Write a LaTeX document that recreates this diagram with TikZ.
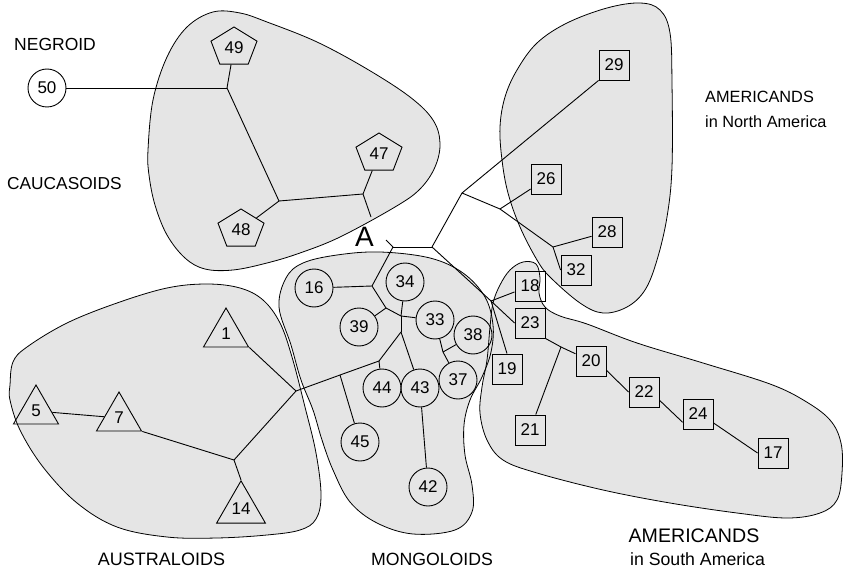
\documentclass[tikz,border=0pt]{standalone}
\usepackage{fontspec}
\setmainfont{Liberation Sans}
\usepackage{graphicx}
\usetikzlibrary{shapes.geometric}

% outlines of the five population clusters
\newcommand\outlineCauc{plot[smooth cycle, tension=0.6] coordinates {(148,150) (153,100) (167,57) (187,27) (213,12) (240,13) (267,22) (317,42) (367,69) (410,97) (433,120) (440,143) (435,167) (420,189) (395,207) (340,237) (300,253) (267,263) (233,270) (205,269) (185,258) (167,235) (155,205) (149,175)}}
\newcommand\outlineNorth{plot[smooth cycle, tension=0.6] coordinates {(500,127) (505,97) (517,70) (537,43) (567,23) (607,8) (640,3) (660,10) (670,33) (672,83) (672,167) (667,217) (657,260) (645,290) (627,307) (603,313) (580,303) (550,277) (537,260) (520,227) (508,193) (502,160)}}
\newcommand\outlineSouth{plot[smooth cycle, tension=0.6] coordinates {(490,327) (493,303) (500,285) (510,270) (523,262) (536,264) (540,278) (539,293) (545,307) (560,316) (587,324) (637,343) (703,363) (770,384) (805,401) (830,420) (841,443) (842,473) (837,500) (820,513) (787,518) (737,513) (670,503) (603,490) (537,473) (503,460) (487,440) (480,413) (482,387) (487,360)}}
\newcommand\outlineMong{plot[smooth cycle, tension=0.6] coordinates {(279,307) (286,278) (303,263) (337,255) (380,252) (430,258) (463,273) (485,297) (493,325) (491,352) (482,377) (470,400) (464,425) (465,455) (472,485) (472,512) (455,530) (413,534) (377,523) (350,502) (333,470) (322,440) (313,410) (301,380) (291,345)}}
\newcommand\outlineAustr{plot[smooth cycle, tension=0.6] coordinates {(10,385) (13,362) (27,347) (67,323) (117,303) (167,288) (207,284) (240,288) (263,300) (280,323) (292,357) (305,407) (316,453) (321,495) (316,519) (300,530) (267,535) (217,538) (167,537) (117,527) (77,503) (43,467) (20,430) (10,400)}}

% numbers inside the widened pentagons are narrowed back
\newcommand\pnum[1]{\scalebox{0.847}[1]{#1}}

\begin{document}
\begin{tikzpicture}[x=1pt, y=-1pt,
  blob/.style={fill=gray!20},
  rim/.style={draw=black, line width=0.8pt},
  link/.style={draw=black, line width=0.9pt},
  numfont/.style={font=\fontsize{17pt}{19pt}\selectfont},
  circ/.style={circle, draw, line width=0.9pt, minimum size=38pt, inner sep=0pt, numfont},
  sq/.style={rectangle, draw, line width=0.9pt, minimum size=30pt, inner sep=0pt, numfont},
  tri/.style={regular polygon, regular polygon sides=3, draw, line width=0.9pt, minimum size=52pt, inner sep=0.5pt, numfont},
  penta/.style={regular polygon, regular polygon sides=5, draw, line width=0.9pt, minimum size=41pt, inner sep=0.5pt, numfont, transform shape},
  lab/.style={inner sep=0pt}
]
\useasboundingbox (0,0) rectangle (843,572);

% cluster regions: fills first, then outlines
\fill[blob] \outlineCauc;
\fill[blob] \outlineNorth;
\fill[blob] \outlineSouth;
\fill[blob] \outlineMong;
\fill[blob] \outlineAustr;
\draw[rim] \outlineCauc;
\draw[rim] \outlineNorth;
\draw[rim] \outlineSouth;
\draw[rim] \outlineMong;
\draw[rim] \outlineAustr;

% populations
\node[circ] (n50) at (47,88) {50};
\begin{scope}[shift={(234,47.5)}, xscale=1.18]
  \node[penta] (n49) at (0,0) {\pnum{49}};
\end{scope}
\begin{scope}[shift={(379,153.5)}, xscale=1.18]
  \node[penta] (n47) at (0,0) {\pnum{47}};
\end{scope}
\begin{scope}[shift={(241,229.5)}, xscale=1.18]
  \node[penta] (n48) at (0,0) {\pnum{48}};
\end{scope}

\node[tri] (n1) at (226,334) {1};
\node[tri] (n5) at (36,411) {5};
\node[tri] (n7) at (119,418) {7};
\node[tri] (n14) at (241,509) {14};

\node[circ] (n16) at (314,288) {16};
\node[circ] (n34) at (405,282) {34};
\node[circ] (n39) at (359,327) {39};
\node[circ] (n33) at (435,320) {33};
\node[circ] (n38) at (473,335) {38};
\node[circ] (n37) at (458,380) {37};
\node[circ] (n44) at (382,388) {44};
\node[circ] (n43) at (420,388) {43};
\node[circ] (n45) at (360,442) {45};
\node[circ] (n42) at (428,487) {42};

\node[sq] (n29) at (614,65) {29};
\node[sq] (n26) at (546,179) {26};
\node[sq] (n28) at (607,232) {28};
\node[sq] (n32) at (576,270) {32};
\node[sq] (n18) at (530,286) {18};
\node[sq] (n23) at (530,323) {23};
\node[sq] (n19) at (507,369) {19};
\node[sq] (n20) at (591,361) {20};
\node[sq] (n22) at (644,392) {22};
\node[sq] (n24) at (698,414) {24};
\node[sq] (n17) at (773,453) {17};
\node[sq] (n21) at (530,430) {21};

% inner branch points of the tree
\coordinate (c1) at (227,88);
\coordinate (c2) at (279,201);
\coordinate (c3) at (363,194);
\coordinate (cA1) at (371,217);
\coordinate (cA2) at (386,240);
\coordinate (j1) at (393,247);
\coordinate (j2) at (432,247);
\coordinate (j3) at (462,193);
\coordinate (j4) at (500,209);
\coordinate (j5) at (553,247);
\coordinate (j6) at (372,286);
\coordinate (j7) at (386,308);
\coordinate (j8) at (401,316);
\coordinate (j9) at (401,332);
\coordinate (j10) at (379,361);
\coordinate (j11) at (340,375);
\coordinate (j12) at (296,391);
\coordinate (j13) at (234,460);
\coordinate (j14) at (443,352);
\coordinate (j15) at (491,301);
\coordinate (j16) at (561,347);

% Negroid and Caucasoid branches
\draw[link] (n50) -- (c1);
\draw[link] (n49) -- (c1);
\draw[link] (c1) -- (c2);
\draw[link] (c2) -- (n48);
\draw[link] (c2) -- (c3);
\draw[link] (c3) -- (n47);
\draw[link] (c3) -- (cA1);

% root
\draw[link] (cA2) -- (j1);
\draw[link] (j1) -- (j2);
\draw[link] (j1) -- (j6);

% Mongoloid and Australoid branches
\draw[link] (j6) -- (n16);
\draw[link] (j6) -- (j7);
\draw[link] (j7) -- (n39);
\draw[link] (j7) -- (j8);
\draw[link] (j8) -- (n34);
\draw[link] (j8) -- (n33);
\draw[link] (j8) -- (j9);
\draw[link] (j9) -- (n43);
\draw[link] (j9) -- (j10);
\draw[link] (j10) -- (n44);
\draw[link] (j10) -- (j11);
\draw[link] (j11) -- (n45);
\draw[link] (j11) -- (j12);
\draw[link] (n33) -- (j14);
\draw[link] (j14) -- (n37);
\draw[link] (n38) -- (j14);
\draw[link] (n43) -- (n42);
\draw[link] (j12) -- (n1.corner 3);
\draw[link] (j12) -- (j13);
\draw[link] (j13) -- (n7.corner 3);
\draw[link] (j13) -- (n14.corner 1);
\draw[link] (n5) -- (n7);

% American branches
\draw[link] (j2) -- (j3);
\draw[link] (j3) -- (n29.south west);
\draw[link] (j3) -- (j4);
\draw[link] (j4) -- (n26);
\draw[link] (j4) -- (j5);
\draw[link] (j5) -- (n28);
\draw[link] (j5) -- (n32.west);
\draw[link] (j2) -- (j15);
\draw[link] (j15) -- (n23.west);
\draw[link] (j15) -- (n18);
\draw[link] (j15) -- (n19.north);
\draw[link] (n23.south east) -- (j16);
\draw[link] (j16) -- (n20);
\draw[link] (j16) -- (n21);
\draw[link] (n20.-31) -- (n22.west);
\draw[link] (n22.-28) -- (n24.-152);
\draw[link] (n24.-30) -- (n17.west);

% group names
\node[lab, anchor=base west, font=\fontsize{17.5pt}{20pt}\selectfont] (tNeg) at (14,51) {NEGROID};
\node[lab, anchor=base west, font=\fontsize{17.3pt}{20pt}\selectfont] (tCau) at (7,190) {CAUCASOIDS};
\node[lab, anchor=base west, font=\fontsize{28pt}{30pt}\selectfont] (tA) at (355,247) {A};
\node[lab, anchor=base west, font=\fontsize{16.3pt}{19pt}\selectfont] (tNa1) at (705,103) {AMERICANDS};
\node[lab, anchor=base west, font=\fontsize{16.3pt}{19pt}\selectfont] (tNa2) at (705,128) {in North America};
\node[lab, anchor=base, font=\fontsize{18pt}{20pt}\selectfont] (tAus) at (161.5,565) {AUSTRALOIDS};
\node[lab, anchor=base, font=\fontsize{17.7pt}{20pt}\selectfont] (tMon) at (432,565) {MONGOLOIDS};
\node[lab, anchor=base, font=\fontsize{19.6pt}{22pt}\selectfont] (tSa1) at (694,542) {AMERICANDS};
\node[lab, anchor=base, font=\fontsize{17.7pt}{20pt}\selectfont] (tSa2) at (697.5,565) {in South America};
\end{tikzpicture}
\end{document}
